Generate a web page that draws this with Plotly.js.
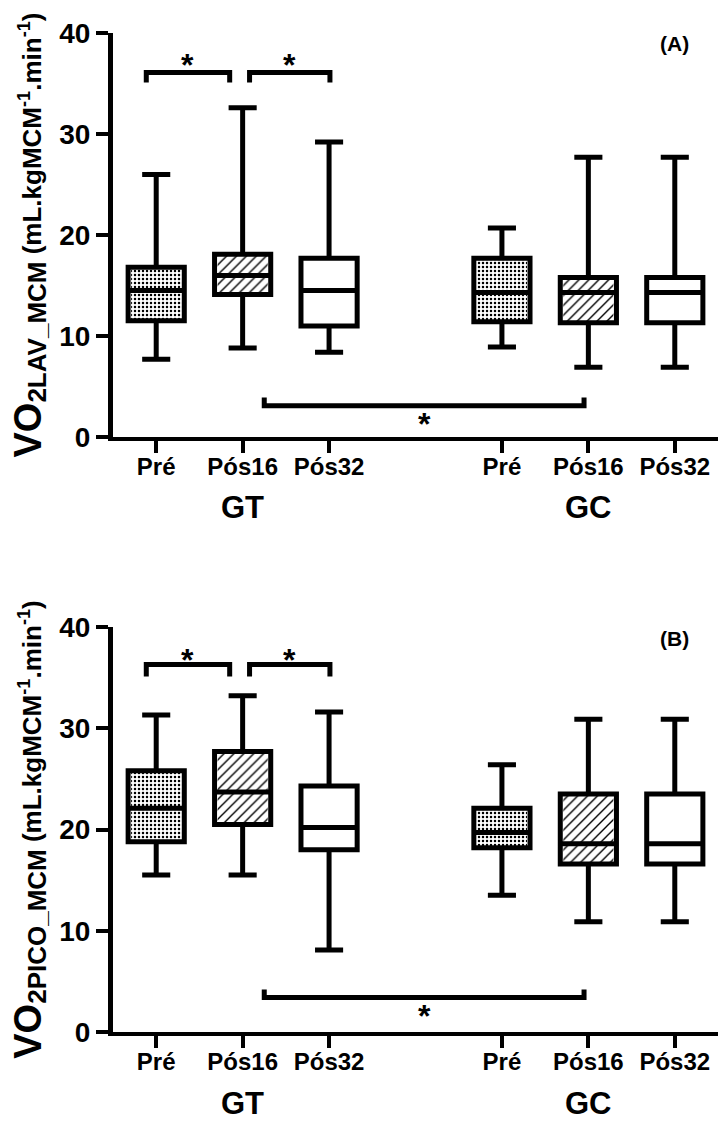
<!DOCTYPE html>
<html>
<head>
<meta charset="utf-8">
<script src="https://cdn.plot.ly/plotly-3.0.1.min.js"></script>
<style>
  html, body { margin: 0; padding: 0; background: #fff; }
  #chart { width: 718px; height: 1122px; }
</style>
</head>
<body>
<div id="chart"></div>
<script>
// ---------- data ----------
const groups = ["GT", "GC"];
const timepoints = ["Pré", "Pós16", "Pós32"];
const fills = [".", "/", ""];           // dotted, hatched, empty per timepoint

// Panel (A) VO2LAV_MCM
const lavUpper  = [26.0, 32.6, 29.2, 20.7, 27.7, 27.7];
const lavQ3     = [16.8, 18.1, 17.7, 17.7, 15.8, 15.8];
const lavMedian = [14.5, 16.0, 14.5, 14.3, 14.3, 14.3];
const lavQ1     = [11.5, 14.1, 11.0, 11.4, 11.3, 11.3];
const lavLower  = [7.7, 8.8, 8.4, 8.9, 6.9, 6.9];

// Panel (B) VO2PICO_MCM
const picoUpper  = [31.3, 33.2, 31.6, 26.4, 30.9, 30.9];
const picoQ3     = [25.8, 27.7, 24.3, 22.1, 23.5, 23.5];
const picoMedian = [22.1, 23.7, 20.2, 19.7, 18.6, 18.6];
const picoQ1     = [18.8, 20.5, 18.0, 18.2, 16.6, 16.6];
const picoLower  = [15.5, 15.5, 8.1, 13.5, 10.9, 10.9];

// significance brackets: [from, to, level]
const lavBrackets  = [[0.885, 1.85, 36.1], [2.08, 3.01, 36.1]];
const lavLong      = [2.25, 5.95, 3.1];
const picoBrackets = [[0.885, 1.85, 36.3], [2.08, 3.01, 36.3]];
const picoLong     = [2.25, 5.95, 3.4];

// ---------- layout helpers ----------
const positions = [];
const tickText = [];
const patterns = [];
groups.forEach((g, gi) => timepoints.forEach((t, ti) => {
  positions.push(gi * 4 + ti + 1);
  tickText.push(t);
  patterns.push(fills[ti]);
}));

const FONT = "Liberation Sans, Arial, sans-serif";
const BOXW = 0.65;

function panel(xa, ya, upper, q3, med, q1, lower) {
  const height = q3.map((v, i) => v - q1[i]);
  return [
    {
      type: "bar", xaxis: xa, yaxis: ya,
      x: positions, y: height, base: q1, width: BOXW - 0.07,
      marker: {
        color: "#ffffff",
        line: { width: 0 },
        pattern: { shape: patterns, fgcolor: "#000", bgcolor: "#fff",
                   size: patterns.map(p => p === "." ? 4 : 7),
                   solidity: patterns.map(p => p === "." ? 0.3 : 0.2) }
      },
      showlegend: false, hoverinfo: "skip"
    },
    {
      type: "box", xaxis: xa, yaxis: ya,
      x: positions, q1: q1, median: med, q3: q3,
      lowerfence: lower, upperfence: upper,
      width: BOXW, whiskerwidth: 0.5,
      boxpoints: false,
      fillcolor: "rgba(0,0,0,0)",
      line: { color: "#000", width: 5 },
      showlegend: false, hoverinfo: "skip"
    }
  ];
}

const data = [
  ...panel("x", "y", lavUpper, lavQ3, lavMedian, lavQ1, lavLower),
  ...panel("x2", "y2", picoUpper, picoQ3, picoMedian, picoQ1, picoLower)
];

function bracketShapes(xr, yr, list, long, tip) {
  const s = [];
  list.forEach(b => {
    s.push({ type: "path", xref: xr, yref: yr,
      path: `M ${b[0]},${b[2] - tip} L ${b[0]},${b[2]} L ${b[1]},${b[2]} L ${b[1]},${b[2] - tip}`,
      line: { color: "#000", width: 5 } });
  });
  s.push({ type: "path", xref: xr, yref: yr,
    path: `M ${long[0]},${long[2] + 0.8} L ${long[0]},${long[2]} L ${long[1]},${long[2]} L ${long[1]},${long[2] + 0.8}`,
    line: { color: "#000", width: 5 } });
  return s;
}

function starAnnots(xr, yr, list, long, upOff, downOff) {
  const a = [];
  list.forEach(b => a.push({ xref: xr, yref: yr, x: (b[0] + b[1]) / 2, y: b[2] + upOff,
    text: "*", showarrow: false, yanchor: "bottom",
    font: { family: FONT, size: 32, color: "#000", weight: 700 } }));
  a.push({ xref: xr, yref: yr, x: (long[0] + long[1]) / 2, y: long[2] + downOff,
    text: "*", showarrow: false, yanchor: "top",
    font: { family: FONT, size: 32, color: "#000", weight: 700 } });
  return a;
}

function groupAnnots(xr, ydom) {
  return groups.map((g, gi) => ({
    xref: xr, yref: ydom, x: gi * 4 + 2, y: 0, yshift: -71,
    text: g, showarrow: false, yanchor: "middle", borderpad: 0,
    font: { family: FONT, size: 31, color: "#000", weight: 700 }
  }));
}

function yTitle(sub) {
  return '<span style="font-size:38px">VO</span><sub><span style="font-size:26px">' + sub +
    '</span></sub> (mL.kgMCM<sup>-1</sup>.min<sup>-1</sup>)';
}

const xaxisBase = {
  range: [0.5, 7.5], showgrid: false, zeroline: false,
  showline: true, linecolor: "#000", linewidth: 4,
  ticks: "outside", ticklen: 12, tickwidth: 4, tickcolor: "#000",
  tickmode: "array", tickvals: positions, ticktext: tickText,
  ticklabelstandoff: -7,
  tickfont: { family: FONT, size: 24, color: "#000", weight: 700 },
  fixedrange: true
};
const yaxisBase = {
  range: [0, 40], dtick: 10, tick0: 0, showgrid: false, zeroline: false,
  showline: true, linecolor: "#000", linewidth: 5,
  ticks: "outside", ticklen: 12, tickwidth: 4, tickcolor: "#000",
  tickfont: { family: FONT, size: 28, color: "#000", weight: 700 },
  fixedrange: true
};

const layout = {
  width: 718, height: 1122,
  margin: { l: 113, r: 0, t: 33, b: 90 },
  paper_bgcolor: "#fff", plot_bgcolor: "#fff",
  showlegend: false,
  barmode: "overlay", boxmode: "overlay",
  xaxis: Object.assign({}, xaxisBase, { domain: [0, 1], anchor: "y" }),
  yaxis: Object.assign({}, yaxisBase, { domain: [0.5956, 1], anchor: "x",
    title: { text: yTitle("2LAV_MCM"), standoff: 12,
             font: { family: FONT, size: 26, color: "#000", weight: 700 } } }),
  xaxis2: Object.assign({}, xaxisBase, { domain: [0, 1], anchor: "y2" }),
  yaxis2: Object.assign({}, yaxisBase, { domain: [0, 0.4054], anchor: "x2",
    title: { text: yTitle("2PICO_MCM"), standoff: 12,
             font: { family: FONT, size: 26, color: "#000", weight: 700 } } }),
  shapes: [
    ...bracketShapes("x", "y", lavBrackets, lavLong, 1.0),
    ...bracketShapes("x2", "y2", picoBrackets, picoLong, 1.2)
  ],
  annotations: [
    ...starAnnots("x", "y", lavBrackets, lavLong, -1.2, 0.2),
    ...starAnnots("x2", "y2", picoBrackets, picoLong, -1.5, 0.15),
    ...groupAnnots("x", "y domain"),
    ...groupAnnots("x2", "y2 domain"),
    { xref: "x", yref: "y", x: 7, y: 39, text: "(A)", showarrow: false,
      font: { family: FONT, size: 21, color: "#000", weight: 700 } },
    { xref: "x2", yref: "y2", x: 7, y: 38.9, text: "(B)", showarrow: false,
      font: { family: FONT, size: 21, color: "#000", weight: 700 } }
  ]
};

Plotly.newPlot("chart", data, layout, { staticPlot: true, displayModeBar: false });
</script>
</body>
</html>
